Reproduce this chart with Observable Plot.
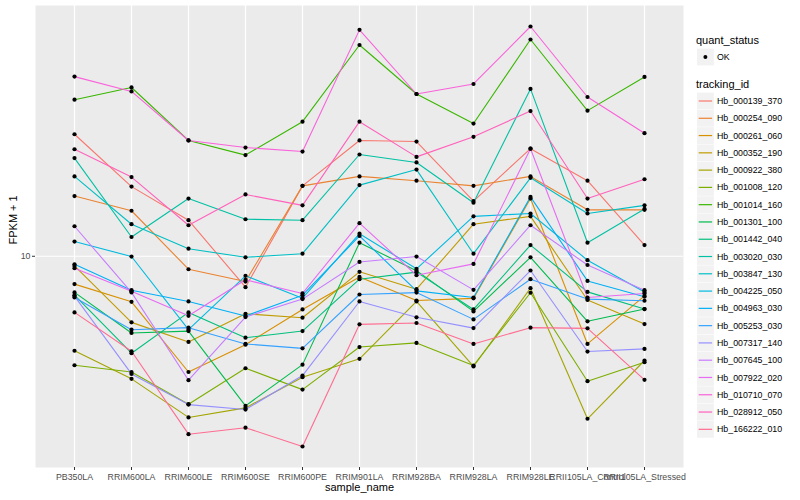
<!DOCTYPE html>
<html><head><meta charset="utf-8">
<script src="https://cdn.jsdelivr.net/npm/d3@7"></script>
<script src="https://cdn.jsdelivr.net/npm/@observablehq/plot@0.6"></script>
<style>
body{margin:0;background:#fff;}
#wrap{width:800px;height:500px;}
</style></head><body><div id="wrap"></div>
<script>
const samples = ["PB350LA","RRIM600LA","RRIM600LE","RRIM600SE","RRIM600PE","RRIM901LA","RRIM928BA","RRIM928LA","RRIM928LE","RRII105LA_Control","RRII105LA_Stressed"];
const trackingIds = ["Hb_000139_370","Hb_000254_090","Hb_000261_060","Hb_000352_190","Hb_000922_380","Hb_001008_120","Hb_001014_160","Hb_001301_100","Hb_001442_040","Hb_003020_030","Hb_003847_130","Hb_004225_050","Hb_004963_030","Hb_005253_030","Hb_007317_140","Hb_007645_100","Hb_007922_020","Hb_010710_070","Hb_028912_050","Hb_166222_010"];
const hueColors = ["#F8766D","#EA8331","#D89000","#C09B00","#A3A500","#7CAE00","#39B600","#00BB4E","#00BF7D","#00C1A3","#00BFC4","#00BAE0","#00B0F6","#35A2FF","#9590FF","#C77CFF","#E76BF3","#FA62DB","#FF62BC","#FF6C91"];
const quantStatus = ["OK"];
const yTicks = [10];

// FPKM + 1 per sample, in the order of `samples`
const Hb_000139_370 = [25.6, 17.1, 13.2, 7.88, 17.2, 24.4, 24.2, 15.3, 22.9, 17.9, 10.9];
const Hb_000254_090 = [15.9, 14.2, 9.05, 8.23, 17.2, 18.5, 17.9, 17.2, 18.5, 14.3, 14.3];
const Hb_000261_060 = [8.07, 7.04, 4.10, 5.06, 6.64, 8.53, 7.11, 7.23, 15.6, 5.09, 7.37];
const Hb_000352_190 = [9.28, 6.01, 5.17, 6.42, 6.23, 8.87, 7.76, 12.8, 13.6, 7.14, 5.93];
const Hb_000922_380 = [4.83, 3.89, 2.89, 3.11, 3.94, 4.54, 7.06, 4.28, 7.82, 2.86, 4.48];
const Hb_001008_120 = [4.32, 4.10, 3.20, 4.22, 3.58, 4.97, 5.13, 4.31, 7.55, 3.82, 4.42];
const Hb_001014_160 = [33.4, 36.7, 24.4, 21.8, 28.2, 50.9, 34.9, 27.8, 53.1, 30.7, 39.8];
const Hb_001301_100 = [7.57, 5.54, 5.62, 3.16, 4.34, 11.1, 8.95, 6.54, 9.92, 6.06, 6.66];
const Hb_001442_040 = [7.41, 4.74, 6.49, 5.34, 5.62, 8.38, 8.85, 6.64, 10.9, 7.60, 6.66];
const Hb_003020_030 = [21.3, 11.6, 15.6, 13.3, 13.2, 21.9, 20.6, 15.1, 36.3, 11.1, 14.4];
const Hb_003847_130 = [18.5, 12.8, 10.6, 9.92, 10.2, 17.3, 19.5, 10.2, 18.3, 13.9, 14.8];
const Hb_004225_050 = [11.2, 9.98, 5.68, 8.60, 7.24, 11.9, 9.08, 13.6, 13.9, 9.70, 7.60];
const Hb_004963_030 = [9.40, 7.70, 7.06, 6.31, 7.41, 11.7, 7.66, 7.28, 15.8, 8.27, 7.32];
const Hb_005253_030 = [7.28, 5.68, 5.77, 5.09, 4.92, 7.45, 7.56, 6.15, 8.38, 7.19, 7.10];
const Hb_007317_140 = [7.36, 4.04, 3.19, 3.07, 3.99, 7.06, 6.25, 5.75, 8.96, 4.80, 4.90];
const Hb_007645_100 = [12.6, 7.57, 3.85, 6.26, 7.19, 9.57, 9.98, 7.72, 12.7, 9.35, 7.70];
const Hb_007922_020 = [9.12, 7.64, 6.32, 8.34, 7.51, 12.9, 8.64, 9.43, 22.9, 7.28, 7.51];
const Hb_010710_070 = [39.9, 35.6, 24.4, 23.1, 22.4, 57.2, 34.9, 37.7, 58.7, 34.1, 25.8];
const Hb_028912_050 = [22.8, 18.4, 12.7, 16.1, 14.8, 28.2, 21.5, 25.1, 30.6, 15.6, 18.1];
const Hb_166222_010 = [6.49, 4.81, 2.54, 2.67, 2.31, 5.92, 5.98, 5.09, 5.77, 5.74, 3.86];

const seriesValues = [Hb_000139_370,Hb_000254_090,Hb_000261_060,Hb_000352_190,Hb_000922_380,Hb_001008_120,Hb_001014_160,Hb_001301_100,Hb_001442_040,Hb_003020_030,Hb_003847_130,Hb_004225_050,Hb_004963_030,Hb_005253_030,Hb_007317_140,Hb_007645_100,Hb_007922_020,Hb_010710_070,Hb_028912_050,Hb_166222_010];

const data = [];
trackingIds.forEach((id, i) => samples.forEach((s, j) => data.push({id, sample: s, value: seriesValues[i][j], status: quantStatus[0]})));

// ggplot-like 5% expansion in log space
const [lo, hi] = d3.extent(data, d => Math.log10(d.value));
const pad = (hi - lo) * 0.05;
const yDomain = [Math.pow(10, lo - pad), Math.pow(10, hi + pad)];

const font = "'Liberation Sans', Arial, Helvetica, sans-serif";

const fig = Plot.plot({
  width: 800, height: 500,
  marginLeft: 35, marginRight: 117, marginTop: 5, marginBottom: 33,
  style: {fontFamily: font, fontSize: "8.8px", background: "white", overflow: "visible"},
  x: {type: "point", domain: samples, padding: 0.6, label: null},
  y: {type: "log", domain: yDomain, label: null},
  color: {domain: trackingIds, range: hueColors},
  marks: [
    Plot.frame({fill: "#EBEBEB", stroke: null}),
    Plot.gridX({stroke: "white", strokeOpacity: 1, strokeWidth: 1.2}),
    Plot.gridY(yTicks, {stroke: "white", strokeOpacity: 1, strokeWidth: 1.2}),
    Plot.line(data, {x: "sample", y: "value", z: "id", stroke: "id", strokeWidth: 1.1}),
    Plot.dot(data, {x: "sample", y: "value", r: 2.1, fill: "black", stroke: null}),
    Plot.axisX({tickSize: 3, tickPadding: 3, stroke: "#333333", fill: "#4D4D4D", fontSize: 8.8, label: null}),
    Plot.axisY(yTicks, {tickSize: 3, tickPadding: 2, stroke: "#333333", fill: "#4D4D4D", fontSize: 8.8, tickFormat: d => String(d), label: null}),
    Plot.text(["sample_name"], {frameAnchor: "bottom", dy: 23, fontSize: 11, fill: "black"}),
    Plot.text(["FPKM + 1"], {frameAnchor: "left", dx: -22, dy: 8, rotate: -90, fontSize: 11, fill: "black"})
  ]
});
document.getElementById("wrap").appendChild(fig);

// legend (ggplot style) on the right
const color = fig.scale("color");
const svg = d3.select(fig);
const lg = svg.append("g").attr("font-family", font).attr("text-anchor", "start");
lg.append("text").attr("x", 696).attr("y", 40).attr("dy", "0.35em").attr("font-size", 11).attr("fill", "black").text("quant_status");
lg.append("rect").attr("x", 697).attr("y", 48.6).attr("width", 16.8).attr("height", 16.8).attr("fill", "#F2F2F2");
lg.append("circle").attr("cx", 705.4).attr("cy", 57).attr("r", 2).attr("fill", "black");
lg.append("text").attr("x", 717).attr("y", 57).attr("dy", "0.35em").attr("font-size", 8.8).attr("fill", "black").text(quantStatus[0]);
lg.append("text").attr("x", 696).attr("y", 84).attr("dy", "0.35em").attr("font-size", 11).attr("fill", "black").text("tracking_id");
trackingIds.forEach((id, i) => {
  const cy = 101 + i * 17.28;
  lg.append("rect").attr("x", 697).attr("y", cy - 8.4).attr("width", 16.8).attr("height", 16.8).attr("fill", "#F2F2F2");
  lg.append("line").attr("x1", 698.7).attr("x2", 712.1).attr("y1", cy).attr("y2", cy).attr("stroke", color.apply(id)).attr("stroke-width", 1.2);
  lg.append("text").attr("x", 717).attr("y", cy).attr("dy", "0.35em").attr("font-size", 8.8).attr("fill", "black").text(id);
});
</script>
</body></html>
